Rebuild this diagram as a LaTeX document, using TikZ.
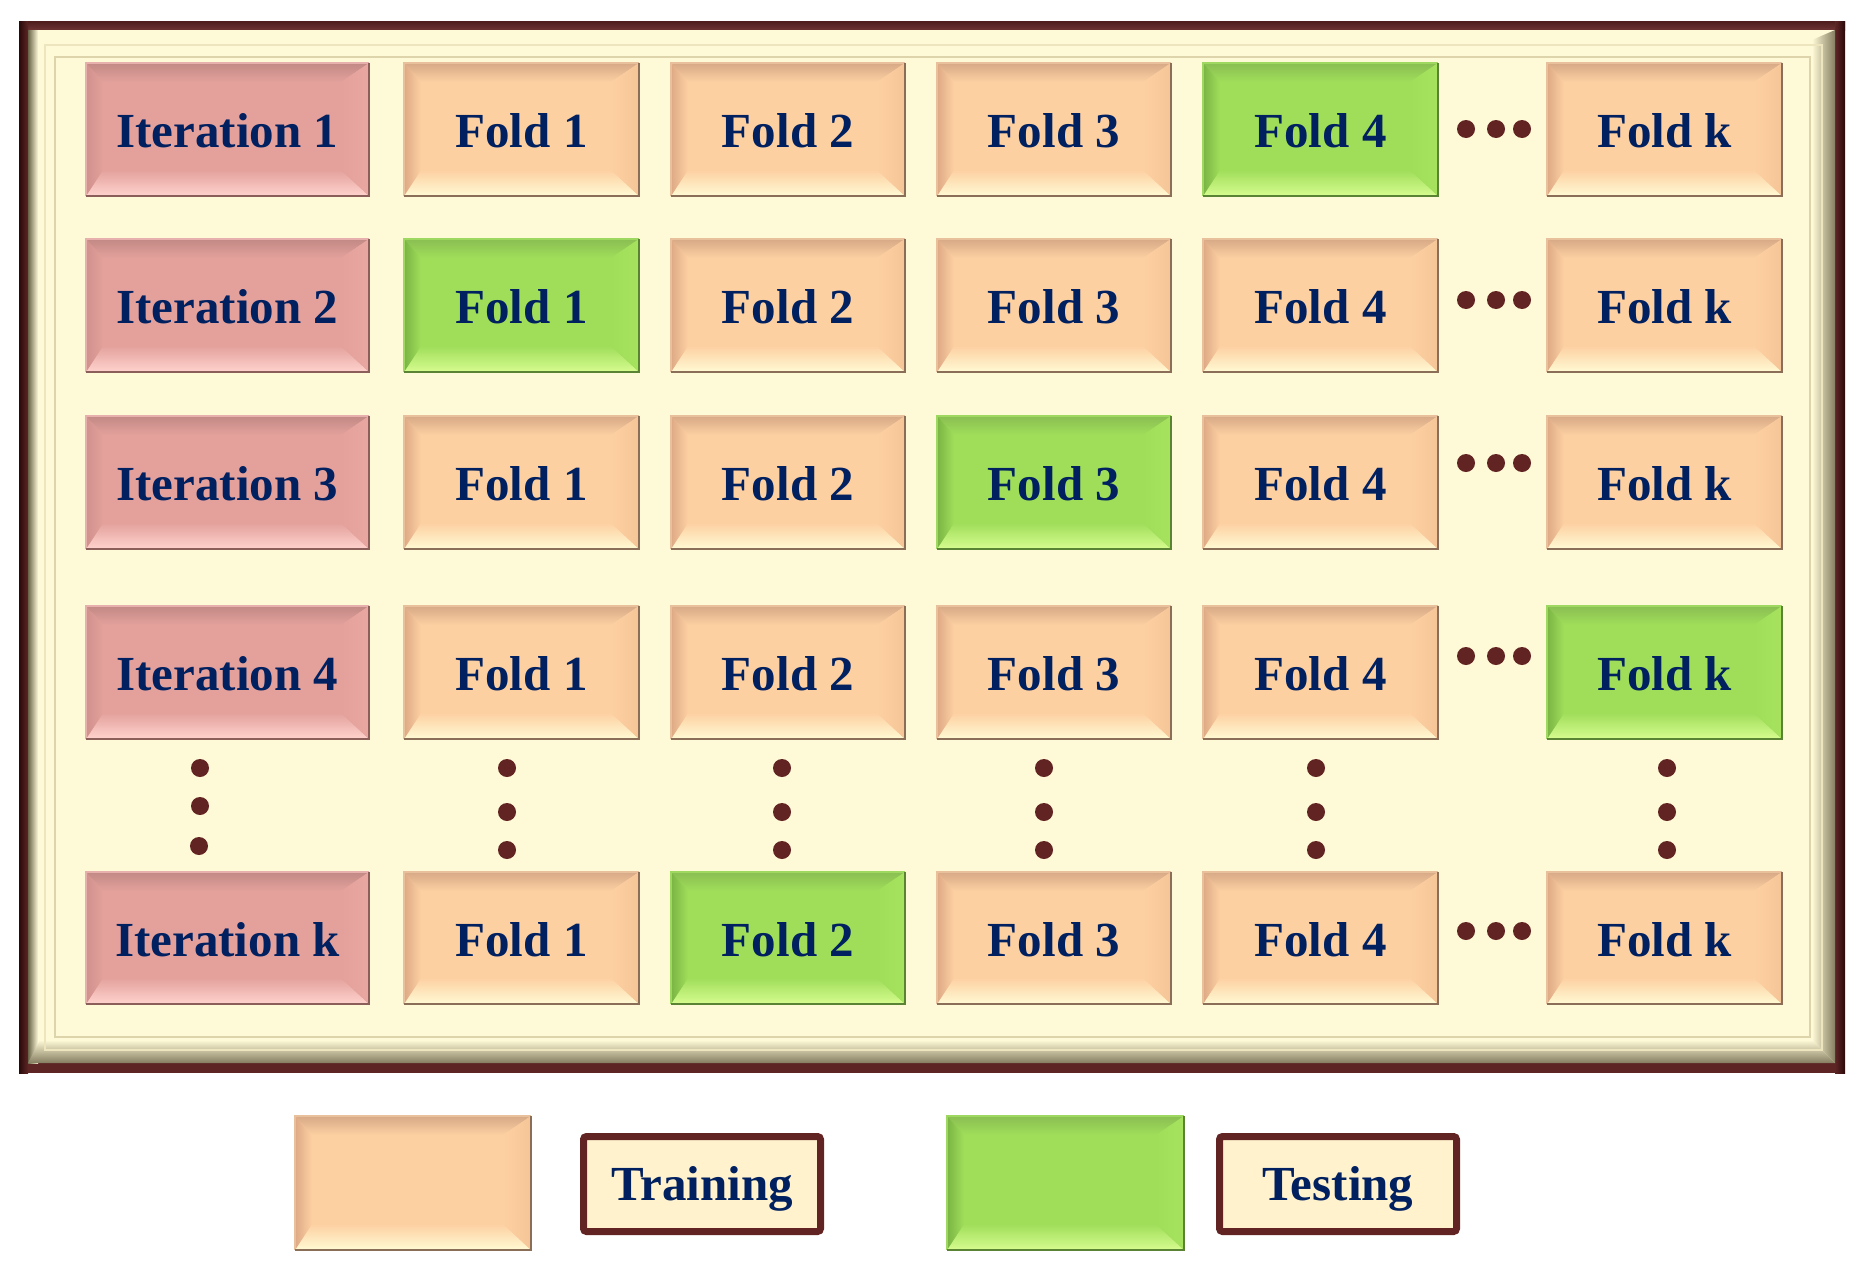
\documentclass[tikz,border=0pt]{standalone}
\usepackage{fontspec}
\setmainfont{Liberation Serif}
\definecolor{txt}{HTML}{002060}
\definecolor{dotc}{HTML}{622423}
\definecolor{cream}{HTML}{FEF9D6}
\definecolor{legfill}{HTML}{FFF2CC}
\definecolor{frdark}{HTML}{5E2525}
\definecolor{frblack}{HTML}{2A0A0A}
\definecolor{frtop1}{HTML}{4E1C1C}
\definecolor{frtop2}{HTML}{6E3434}
\definecolor{olive}{HTML}{857D60}
\definecolor{oliveL}{HTML}{6A6448}
\definecolor{line1}{HTML}{EDE5BE}
\definecolor{line2}{HTML}{DDD4AC}
% orange
\definecolor{oface}{HTML}{FDD0A2}
\definecolor{otop}{HTML}{D7A986}
\definecolor{obot}{HTML}{FFFAD4}
\definecolor{oleft}{HTML}{DDA985}
\definecolor{oright}{HTML}{F5C597}
\definecolor{ohi}{HTML}{E8C09C}
\definecolor{oedge}{HTML}{8A6E58}
% pink
\definecolor{pface}{HTML}{E4A19C}
\definecolor{ptop}{HTML}{C28985}
\definecolor{pbot}{HTML}{FFD3CE}
\definecolor{pleft}{HTML}{D0908B}
\definecolor{pright}{HTML}{E9A7A1}
\definecolor{phi}{HTML}{E8B0AC}
\definecolor{pedge}{HTML}{8C5E5A}
% green
\definecolor{gface}{HTML}{A0DE5A}
\definecolor{gtop}{HTML}{8ABE52}
\definecolor{gbot}{HTML}{D6FC90}
\definecolor{gleft}{HTML}{7AB444}
\definecolor{gright}{HTML}{A6E25E}
\definecolor{ghi}{HTML}{9ED860}
\definecolor{gedge}{HTML}{5A8434}
\tikzset{
  boxtext/.style={font=\fontsize{24.5}{29}\bfseries\selectfont, text=txt, inner sep=0pt, text height=16pt, text depth=0pt},
  dotnode/.style={circle, fill=dotc, inner sep=0pt, minimum size=9pt},
  legbox/.style={draw=dotc, line width=3.5pt, fill=legfill, rounded corners=1.5pt, minimum width=118.5pt, minimum height=47.5pt, inner sep=0pt, font=\fontsize{24.5}{29}\bfseries\selectfont, text=txt, text height=16pt, text depth=0pt}
}
\newcommand{\bev}[7]{%
  \pgfmathsetmacro\bxa{#2+17}%
  \pgfmathsetmacro\bxb{#4-28}%
  \pgfmathsetmacro\bya{#3+19}%
  \pgfmathsetmacro\byb{#5-26}%
  \fill[#6face] (#2,#3) rectangle (#4,#5);
  \shade[top color=#6top, bottom color=#6face] (#2,#3) -- (#4,#3) -- (\bxb,\bya) -- (\bxa,\bya) -- cycle;
  \shade[top color=#6face, middle color=#6bot, bottom color=#6bot] (#2,#5) -- (#4,#5) -- (\bxb,\byb) -- (\bxa,\byb) -- cycle;
  \shade[left color=#6left, right color=#6face] (#2,#3) -- (\bxa,\bya) -- (\bxa,\byb) -- (#2,#5) -- cycle;
  \shade[left color=#6face, right color=#6right] (#4,#3) -- (\bxb,\bya) -- (\bxb,\byb) -- (#4,#5) -- cycle;
  \draw[#6hi, line width=0.75pt] (#2,#5) -- (#2,#3) -- (#4,#3);
  \draw[#6edge, line width=1.1pt] (#2,#5) -- (#4,#5) -- (#4,#3);
  \node[boxtext] (#1) at ({(#2+#4)/2},{(#3+#5)/2+2}) {#7};
}
\begin{document}
\begin{tikzpicture}[x=0.5pt,y=-0.5pt]
\useasboundingbox (0,0) rectangle (1867,1264);
% ---- frame ----
\fill[frdark] (19,21) rectangle (1845,1073);
\shade[top color=frtop1, bottom color=frtop2] (19,21) rectangle (1845,30);
\shade[left color=frblack, right color=frdark] (19,21) rectangle (28,1073);
\shade[left color=frdark, right color=frblack] (1835,21) rectangle (1845,1073);
\fill[cream] (28,30) rectangle (1835,1063);
\shade[left color=oliveL, right color=cream] (28,30) rectangle (38,1063);
\shade[left color=cream, right color=olive] (1812,40) -- (1835,30) -- (1835,1063) -- (1812,1040) -- cycle;
\shade[top color=cream, bottom color=olive] (40,1040) -- (1812,1040) -- (1835,1063) -- (28,1063) -- cycle;
\draw[line1, line width=0.75pt] (45,45) rectangle (1822,1050);
\draw[line2, line width=0.75pt] (55,57) rectangle (1810,1037);
% ---- row 1 ----
\bev{it1}{86}{63}{369}{196}{p}{Iteration 1}
\bev{r1f1}{404}{63}{639}{196}{o}{Fold 1}
\bev{r1f2}{671}{63}{905}{196}{o}{Fold 2}
\bev{r1f3}{937}{63}{1171}{196}{o}{Fold 3}
\bev{r1f4}{1203}{63}{1438}{196}{g}{Fold 4}
\bev{r1fk}{1547}{63}{1782}{196}{o}{Fold k}
% ---- row 2 ----
\bev{it2}{86}{239}{369}{372}{p}{Iteration 2}
\bev{r2f1}{404}{239}{639}{372}{g}{Fold 1}
\bev{r2f2}{671}{239}{905}{372}{o}{Fold 2}
\bev{r2f3}{937}{239}{1171}{372}{o}{Fold 3}
\bev{r2f4}{1203}{239}{1438}{372}{o}{Fold 4}
\bev{r2fk}{1547}{239}{1782}{372}{o}{Fold k}
% ---- row 3 ----
\bev{it3}{86}{416}{369}{549}{p}{Iteration 3}
\bev{r3f1}{404}{416}{639}{549}{o}{Fold 1}
\bev{r3f2}{671}{416}{905}{549}{o}{Fold 2}
\bev{r3f3}{937}{416}{1171}{549}{g}{Fold 3}
\bev{r3f4}{1203}{416}{1438}{549}{o}{Fold 4}
\bev{r3fk}{1547}{416}{1782}{549}{o}{Fold k}
% ---- row 4 ----
\bev{it4}{86}{606}{369}{739}{p}{Iteration 4}
\bev{r4f1}{404}{606}{639}{739}{o}{Fold 1}
\bev{r4f2}{671}{606}{905}{739}{o}{Fold 2}
\bev{r4f3}{937}{606}{1171}{739}{o}{Fold 3}
\bev{r4f4}{1203}{606}{1438}{739}{o}{Fold 4}
\bev{r4fk}{1547}{606}{1782}{739}{g}{Fold k}
% ---- row k ----
\bev{itk}{86}{872}{369}{1004}{p}{Iteration k}
\bev{rkf1}{404}{872}{639}{1004}{o}{Fold 1}
\bev{rkf2}{671}{872}{905}{1004}{g}{Fold 2}
\bev{rkf3}{937}{872}{1171}{1004}{o}{Fold 3}
\bev{rkf4}{1203}{872}{1438}{1004}{o}{Fold 4}
\bev{rkfk}{1547}{872}{1782}{1004}{o}{Fold k}
% ---- horizontal dots ----
\foreach \r/\yy in {1/129,2/300,3/463,4/656,k/931}{
  \node[dotnode] (h\r a) at (1466,\yy) {};
  \node[dotnode] (h\r b) at (1496,\yy) {};
  \node[dotnode] (h\r c) at (1522,\yy) {};
}
% ---- vertical dots ----
\node[dotnode] (vi1) at (200,768) {};
\node[dotnode] (vi2) at (200,806) {};
\node[dotnode] (vi3) at (199,846) {};
\foreach \c/\xx in {1/507,2/782,3/1044,4/1316,k/1667}{
  \node[dotnode] (v\c a) at (\xx,768) {};
  \node[dotnode] (v\c b) at (\xx,812) {};
  \node[dotnode] (v\c c) at (\xx,850) {};
}
% ---- legend ----
\bev{legtrain}{295}{1116}{531}{1250}{o}{}
\node[legbox] (train) at (702,1184) {Training};
\bev{legtest}{947}{1116}{1184}{1250}{g}{}
\node[legbox] (test) at (1338,1184) {Testing};
\end{tikzpicture}
\end{document}
